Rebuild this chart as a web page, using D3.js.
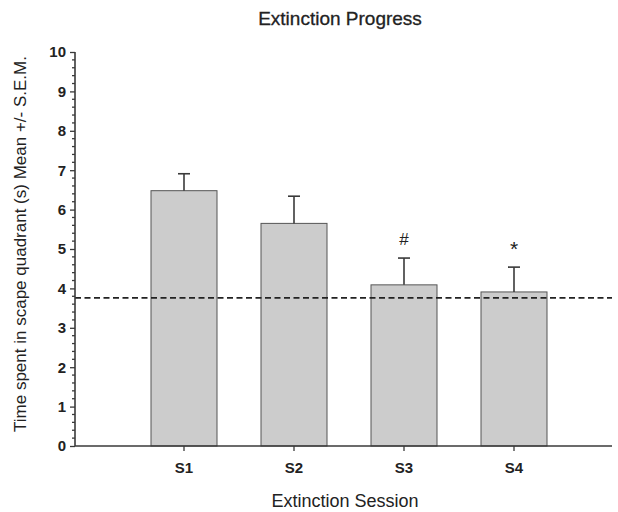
<!DOCTYPE html>
<html>
<head>
<meta charset="utf-8">
<script src="https://cdn.jsdelivr.net/npm/d3@7"></script>
<style>
  html, body { margin: 0; padding: 0; background: #fff; }
  svg { display: block; font-family: Arial, "Liberation Sans", sans-serif; }
</style>
</head>
<body>
<svg id="chart" width="618" height="512"></svg>
<script>
const sessions = ["S1", "S2", "S3", "S4"];
const means = [6.48, 5.65, 4.09, 3.91];
const sems = [0.43, 0.69, 0.68, 0.63];
const marks = ["", "", "#", "*"];
const chanceLevel = 3.76;
const yTicks = [0, 1, 2, 3, 4, 5, 6, 7, 8, 9, 10];
const titleText = "Extinction Progress";
const xTitle = "Extinction Session";
const yTitle = "Time spent in scape quadrant (s) Mean +/- S.E.M.";

const svg = d3.select("#chart");
const axisLeftX = 75, axisRightX = 612;
const y = d3.scaleLinear().domain([0, 10]).range([446, 52]);
const x = d3.scaleBand().domain(sessions).range([129, 569]).paddingInner(0.4).paddingOuter(0.2);

const ink = "#3a3a3a";
const fontFam = "Arial, 'Liberation Sans', sans-serif";

// Bars
svg.append("g").selectAll("rect").data(sessions).join("rect")
  .attr("x", d => x(d))
  .attr("y", (d, i) => y(means[i]))
  .attr("width", x.bandwidth())
  .attr("height", (d, i) => y(0) - y(means[i]))
  .attr("fill", "#cccccc")
  .attr("stroke", "#555")
  .attr("stroke-width", 1);

// Error bars (upper only)
const eb = svg.append("g").attr("stroke", ink).attr("stroke-width", 1.6);
sessions.forEach((s, i) => {
  const cx = x(s) + x.bandwidth() / 2;
  eb.append("line").attr("x1", cx).attr("x2", cx)
    .attr("y1", y(means[i])).attr("y2", y(means[i] + sems[i]));
  eb.append("line").attr("x1", cx - 6).attr("x2", cx + 6)
    .attr("y1", y(means[i] + sems[i])).attr("y2", y(means[i] + sems[i]));
});

// Significance marks
svg.append("g").selectAll("text").data(sessions).join("text")
  .attr("x", d => x(d) + x.bandwidth() / 2)
  .attr("y", (d, i) => y(means[i] + sems[i]) - (marks[i] === "*" ? 11 : 13))
  .attr("text-anchor", "middle")
  .attr("font-size", (d, i) => marks[i] === "*" ? 21 : 17)
  .attr("fill", "#222")
  .text((d, i) => marks[i]);

// Dashed reference line
svg.append("line")
  .attr("x1", axisLeftX).attr("x2", axisRightX)
  .attr("y1", y(chanceLevel)).attr("y2", y(chanceLevel))
  .attr("stroke", "#222").attr("stroke-width", 1.6)
  .attr("stroke-dasharray", "6,3.5");

// Y axis
const yAxis = d3.axisLeft(y).tickValues(yTicks).tickFormat(d3.format("d")).tickSize(5).tickPadding(4);
const gy = svg.append("g").attr("transform", `translate(${axisLeftX},0)`).call(yAxis);
gy.select(".domain").remove();
gy.selectAll(".tick line").attr("stroke", ink).attr("stroke-width", 1.3);
gy.selectAll(".tick text").attr("font-size", 15).attr("font-weight", "bold")
  .attr("fill", "#222").attr("font-family", fontFam);
// minor ticks
const minor = d3.range(0, 10.001, 0.2).filter(v => Math.abs(v - Math.round(v)) > 1e-6);
svg.append("g").selectAll("line").data(minor).join("line")
  .attr("x1", axisLeftX - 3).attr("x2", axisLeftX)
  .attr("y1", d => y(d)).attr("y2", d => y(d))
  .attr("stroke", ink).attr("stroke-width", 1.3);
svg.append("line").attr("x1", axisLeftX).attr("x2", axisLeftX)
  .attr("y1", y(10)).attr("y2", y(0)).attr("stroke", ink).attr("stroke-width", 1.6);

// X axis
const xAxis = d3.axisBottom(x).tickSize(5).tickPadding(11);
const gx = svg.append("g").attr("transform", `translate(0,${y(0)})`).call(xAxis);
gx.select(".domain").remove();
gx.selectAll(".tick line").attr("stroke", ink).attr("stroke-width", 1.3);
gx.selectAll(".tick text").attr("font-size", 15).attr("font-weight", "bold")
  .attr("fill", "#222").attr("font-family", fontFam);
svg.append("line").attr("x1", axisLeftX).attr("x2", axisRightX)
  .attr("y1", y(0)).attr("y2", y(0)).attr("stroke", ink).attr("stroke-width", 1.6);

// Titles
svg.append("text").attr("x", 340).attr("y", 25).attr("text-anchor", "middle")
  .attr("font-size", 19).attr("fill", "#222").attr("stroke", "#222").attr("stroke-width", 0.3)
  .text(titleText);
svg.append("text").attr("x", 345).attr("y", 507).attr("text-anchor", "middle")
  .attr("font-size", 18).attr("fill", "#222")
  .text(xTitle);
svg.append("text").attr("transform", "translate(26,244) rotate(-90)").attr("text-anchor", "middle")
  .attr("font-size", 17).attr("fill", "#222")
  .text(yTitle);
</script>
</body>
</html>
